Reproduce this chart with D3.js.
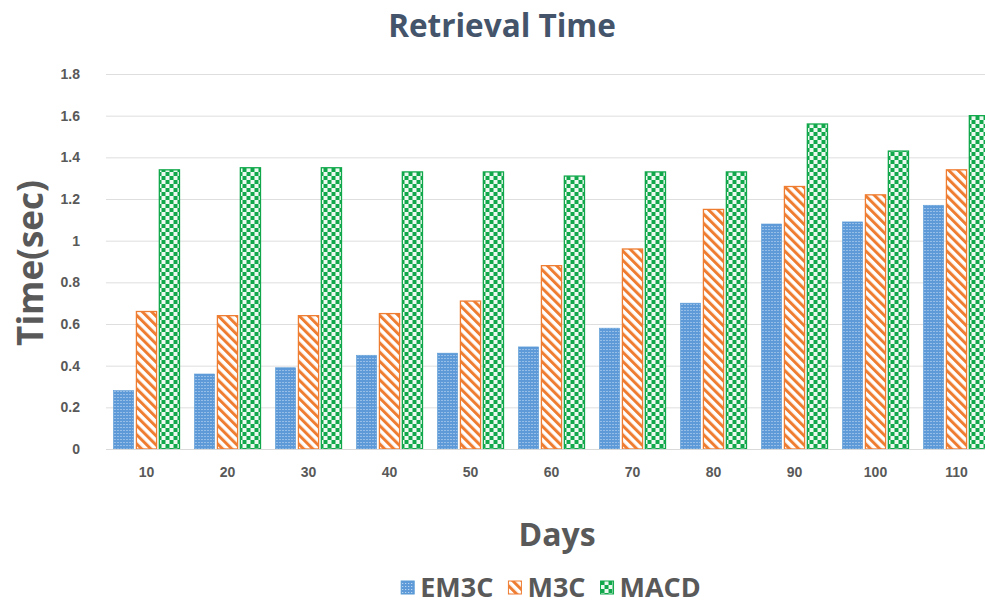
<!DOCTYPE html>
<html>
<head>
<meta charset="utf-8">
<script src="https://cdn.jsdelivr.net/npm/d3@7"></script>
<style>
  html, body { margin: 0; padding: 0; background: #ffffff; overflow: hidden; }
  svg { display: block; font-family: "Open Sans", "DejaVu Sans", sans-serif; }
</style>
</head>
<body>
<svg id="chart" width="985" height="606"></svg>
<script>
const categories = ["10", "20", "30", "40", "50", "60", "70", "80", "90", "100", "110"];
const seriesNames = ["EM3C", "M3C", "MACD"];
const em3c = [0.28, 0.36, 0.39, 0.45, 0.46, 0.49, 0.58, 0.70, 1.08, 1.09, 1.17];
const m3c  = [0.66, 0.64, 0.64, 0.65, 0.71, 0.88, 0.96, 1.15, 1.26, 1.22, 1.34];
const macd = [1.34, 1.35, 1.35, 1.33, 1.33, 1.31, 1.33, 1.33, 1.56, 1.43, 1.60];
const yTicks = [0, 0.2, 0.4, 0.6, 0.8, 1, 1.2, 1.4, 1.6, 1.8];
const titleText = "Retrieval Time";
const xTitle = "Days";
const yTitle = "Time(sec)";

const seriesValues = [em3c, m3c, macd];

const svg = d3.select("#chart");
const plot = { left: 106, right: 997, top: 74, bottom: 449 };

// patterns
const defs = svg.append("defs");
const pBlue = defs.append("pattern").attr("id", "pat-em3c")
  .attr("patternUnits", "userSpaceOnUse").attr("width", 3).attr("height", 3);
pBlue.append("rect").attr("width", 3).attr("height", 3).attr("fill", "#5f9ad8");
pBlue.append("rect").attr("x", 1).attr("y", 1).attr("width", 1).attr("height", 1).attr("fill", "#cfe2f6");

const pOr = defs.append("pattern").attr("id", "pat-m3c")
  .attr("patternUnits", "userSpaceOnUse").attr("width", 6.5).attr("height", 6.5)
  .attr("patternTransform", "rotate(-45)");
pOr.append("rect").attr("width", 6.5).attr("height", 6.5).attr("fill", "#ffffff");
pOr.append("rect").attr("width", 3).attr("height", 6.5).attr("fill", "#ee7d32");

const pGr = defs.append("pattern").attr("id", "pat-macd")
  .attr("patternUnits", "userSpaceOnUse").attr("width", 8).attr("height", 8);
pGr.append("rect").attr("width", 8).attr("height", 8).attr("fill", "#11a84b");
pGr.append("rect").attr("x", 4).attr("y", 0).attr("width", 4).attr("height", 4).attr("fill", "#eefaf1");
pGr.append("rect").attr("x", 0).attr("y", 4).attr("width", 4).attr("height", 4).attr("fill", "#eefaf1");

const fills = ["url(#pat-em3c)", "url(#pat-m3c)", "url(#pat-macd)"];
const strokes = ["#5b9bd5", "#ee7d32", "#11a84b"];

const y = d3.scaleLinear().domain([0, 1.8]).range([plot.bottom, plot.top]);
const x0 = d3.scaleBand().domain(categories).range([plot.left, plot.right]).padding(0);
const groupW = 66;
const x1 = d3.scaleBand().domain(seriesNames).range([0, groupW]).paddingInner(0.12);

// gridlines + y axis labels
const yAxis = d3.axisLeft(y).tickValues(yTicks).tickSize(-(plot.right - plot.left))
  .tickFormat(d => d3.format("~g")(d)).tickPadding(26);
const gy = svg.append("g").attr("transform", `translate(${plot.left},0)`).call(yAxis);
gy.select(".domain").remove();
gy.selectAll(".tick line").attr("stroke", "#dedede").attr("stroke-width", 1);
gy.selectAll(".tick text").attr("fill", "#595959").attr("font-size", 14).attr("font-weight", 700);

// bars
const groups = svg.append("g").selectAll("g").data(categories).join("g")
  .attr("transform", d => `translate(${x0(d) + (x0.bandwidth() - groupW) / 2},0)`);
groups.selectAll("rect").data((d, i) => seriesNames.map((s, k) => ({ s, k, v: seriesValues[k][i] })))
  .join("rect")
  .attr("x", d => x1(d.s))
  .attr("width", x1.bandwidth())
  .attr("y", d => y(d.v))
  .attr("height", d => y(0) - y(d.v))
  .attr("fill", d => fills[d.k])
  .attr("stroke", d => strokes[d.k])
  .attr("stroke-width", d => d.k === 0 ? 0.6 : 1.3);

// x axis
const xAxis = d3.axisBottom(x0).tickSize(0).tickPadding(18);
const gx = svg.append("g").attr("transform", `translate(0,${plot.bottom})`).call(xAxis);
gx.select(".domain").attr("stroke", "#d9d9d9");
gx.selectAll(".tick text").attr("fill", "#595959").attr("font-size", 14).attr("font-weight", 700);

// titles
svg.append("text").attr("x", 502).attr("y", 37).attr("text-anchor", "middle")
  .attr("font-size", 31.5).attr("font-weight", 700).attr("fill", "#44546a").text(titleText);
svg.append("text").attr("x", 557).attr("y", 546).attr("text-anchor", "middle")
  .attr("font-size", 32).attr("font-weight", 700).attr("fill", "#595959").text(xTitle);
svg.append("text").attr("transform", "translate(43,263) rotate(-90)").attr("text-anchor", "middle")
  .attr("font-size", 35).attr("font-weight", 700).attr("fill", "#595959").text(yTitle);

// legend
const lg = svg.append("g");
const items = lg.selectAll("g").data(seriesNames).join("g");
items.append("rect").attr("width", 13).attr("height", 13).attr("y", -16)
  .attr("fill", (d, i) => fills[i]).attr("stroke", (d, i) => strokes[i]).attr("stroke-width", 1);
items.append("text").attr("x", 19).attr("y", 0).attr("font-size", 27).attr("font-weight", 700)
  .attr("fill", "#595959").text(d => d);
let cx = 0;
const gap = 15;
items.each(function () {
  const w = this.getBBox().width;
  d3.select(this).attr("transform", `translate(${cx},0)`);
  cx += w + gap;
});
const total = cx - gap;
lg.attr("transform", `translate(${551 - total / 2},597)`);
</script>
</body>
</html>
